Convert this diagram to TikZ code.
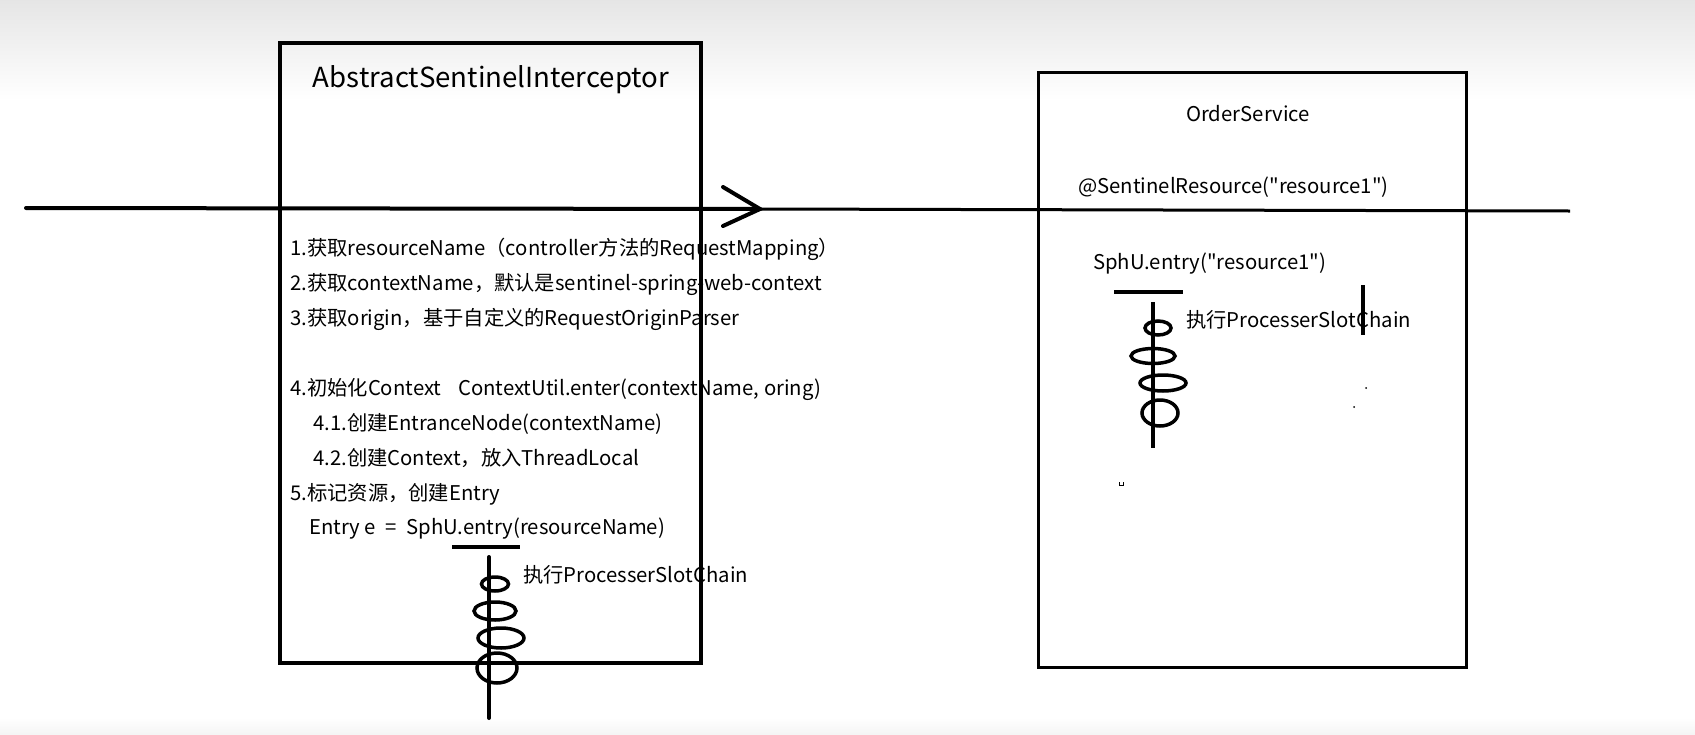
\documentclass[tikz,border=0pt]{standalone}
\usepackage{fontspec}
\setmainfont{Noto Sans CJK SC}[Ligatures=TeXOff]
\begin{document}
\begin{tikzpicture}[x=1pt,y=-1pt,
  txt/.style={anchor=base west, inner sep=0pt, font=\fontsize{20.3}{24}\selectfont},
  ctxt/.style={anchor=base, inner sep=0pt},
  frameA/.style={line width=4pt},
  frameB/.style={line width=3pt},
  flow/.style={line width=4pt, line cap=round},
  ring/.style={line width=3.5pt},
  stem/.style={line width=4pt}]
\useasboundingbox (0,0) rectangle (1695,734);
\fill[white] (0,0) rectangle (1695,734);
\shade[top color=gray!20, bottom color=white] (0,0) rectangle (1695,100);
\shade[top color=white, bottom color=gray!8] (0,718) rectangle (1695,734);

% texts of the left box
\node[ctxt, font=\fontsize{27.6}{32}\selectfont] (title) at (491,87) {AbstractSentinelInterceptor};
\node[txt] (s1) at (290,255) {1.获取resourceName（controller方法的RequestMapping）};
\node[txt] (s2) at (290,290) {2.获取contextName，默认是sentinel-spring-web-context};
\node[txt] (s3) at (290,325) {3.获取origin，基于自定义的RequestOriginParser};
\node[txt] (s4) at (290,395) {4.初始化Context\hspace{17pt}ContextUtil.enter(contextName, oring)};
\node[txt] (s41) at (313,430) {4.1.创建EntranceNode(contextName)};
\node[txt] (s42) at (313,465) {4.2.创建Context，放入ThreadLocal};
\node[txt] (s5) at (290,500) {5.标记资源，创建Entry};
\node[txt] (s6) at (309,534) {Entry e\hspace{5pt} = \hspace{5pt}SphU.entry(resourceName)};
\node[txt] (chainA) at (523,582) {执行ProcesserSlotChain};

% texts of the right box
\node[ctxt, font=\fontsize{20.3}{24}\selectfont] (order) at (1248,121) {OrderService};
\node[txt] (anno) at (1078,193) {@SentinelResource("resource1")};
\node[txt] (sph) at (1093,269) {SphU.entry("resource1")};
\node[txt] (chainB) at (1186,327) {执行ProcesserSlotChain};

% boxes
\draw[frameA] (280,43) rectangle (701,663);
\draw[frameB] (1038,72) rectangle (1466,667);

% request line with arrow
\coordinate (start) at (26,208);
\coordinate (tip) at (760,209);
\coordinate (finish) at (1570,211);
\coordinate (armU) at (723,187);
\coordinate (armD) at (723,226);
\draw[flow] (start) -- (tip);
\draw[frameB] (tip) -- (finish);
\draw[flow, line join=miter] (armU) -- (tip) -- (armD);

% left slot chain
\coordinate (barAL) at (452,547);
\coordinate (barAR) at (520,547);
\coordinate (stemAT) at (489,557);
\coordinate (stemAB) at (489,718);
\draw[stem] (barAL) -- (barAR);
\draw[stem, line cap=round] (stemAT) -- (stemAB);
\draw[ring] (495,584) ellipse [x radius=13.5pt, y radius=7pt];
\draw[ring] (495,611) ellipse [x radius=21pt, y radius=9pt];
\draw[ring] (501,638) ellipse [x radius=23pt, y radius=10pt];
\draw[ring] (497,668) ellipse [x radius=20pt, y radius=15pt];

% right slot chain
\coordinate (barBL) at (1114,292);
\coordinate (barBR) at (1183,292);
\coordinate (stemBT) at (1153,302);
\coordinate (stemBB) at (1153,448);
\draw[stem] (barBL) -- (barBR);
\draw[stem] (stemBT) -- (stemBB);
\draw[ring] (1158,328) ellipse [x radius=13pt, y radius=7pt];
\draw[ring] (1153,356) ellipse [x radius=22pt, y radius=7.5pt];
\draw[ring] (1163,383) ellipse [x radius=23pt, y radius=8pt];
\draw[ring] (1160,413) ellipse [x radius=18pt, y radius=13pt];

% stray marks
\coordinate (markT) at (1363,285);
\coordinate (markB) at (1363,335);
\draw[stem] (markT) -- (markB);
\fill (1366,388) circle (1pt);
\fill (1354,407) circle (1pt);
\draw[line width=0.8pt] (1119,482) -- (1119,485) -- (1123,485) -- (1123,482);
\end{tikzpicture}
\end{document}
